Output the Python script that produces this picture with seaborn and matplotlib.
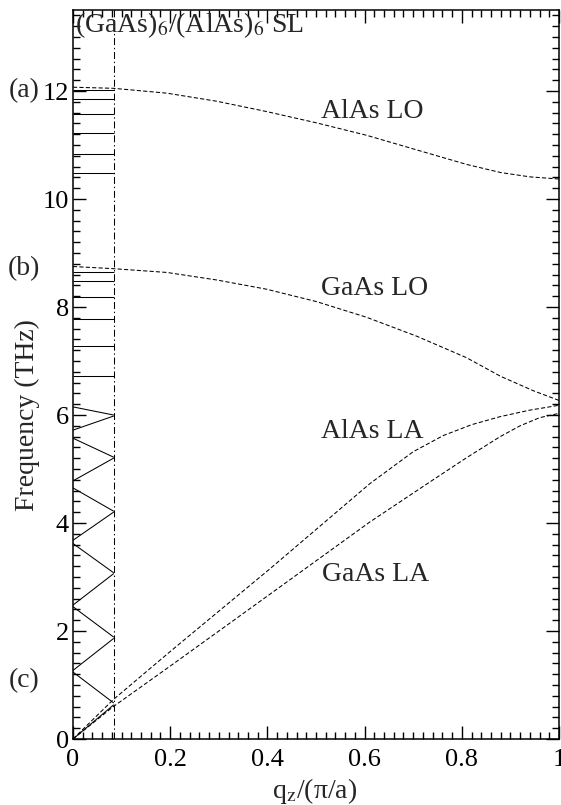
import numpy as np
import pandas as pd
import matplotlib
matplotlib.use("Agg")
import matplotlib.pyplot as plt
from matplotlib.ticker import MultipleLocator, FixedLocator
import seaborn as sns

# ---------------- data ----------------
qb = 1.0 / 12.0  # superlattice zone boundary in units of pi/a

q_alas_lo = [0.0, 0.083, 0.193, 0.296, 0.398, 0.501, 0.604, 0.707, 0.810, 0.880, 0.940, 1.0]
f_alas_lo = [12.07, 12.05, 11.96, 11.81, 11.62, 11.41, 11.18, 10.91, 10.64, 10.49, 10.41, 10.37]

q_gaas_lo = [0.0, 0.083, 0.193, 0.296, 0.398, 0.501, 0.604, 0.707, 0.810, 0.879, 0.947, 1.0]
f_gaas_lo = [8.75, 8.71, 8.64, 8.50, 8.33, 8.10, 7.81, 7.46, 7.06, 6.72, 6.45, 6.27]

q_alas_la = [0.0, 0.083, 0.200, 0.405, 0.611, 0.700, 0.762, 0.820, 0.879, 0.940, 1.0]
f_alas_la = [0.0, 0.73, 1.62, 3.15, 4.73, 5.32, 5.62, 5.82, 5.97, 6.09, 6.18]

q_gaas_la = [0.0, 0.083, 0.200, 0.405, 0.611, 0.741, 0.810, 0.879, 0.920, 0.960, 1.0]
f_gaas_la = [0.0, 0.60, 1.35, 2.68, 4.02, 4.80, 5.21, 5.60, 5.80, 5.95, 6.03]

# folded acoustic branches of the SL: (f at q=0, f at q=qb)
fold_f_center   = [0.00, 1.24, 1.27, 2.45, 2.48, 3.62, 3.68, 4.65, 4.78, 5.57, 5.72, 6.15]
fold_f_boundary = [0.63, 0.67, 1.86, 1.89, 3.06, 3.08, 4.20, 4.22, 5.20, 5.22, 5.98, 6.00]

# confined optical modes of the SL (flat)
opt_freqs = [12.02, 11.85, 11.57, 11.22, 10.83, 10.49,
             8.65, 8.49, 8.18, 7.77, 7.28, 6.72]

curve_labels = ["AlAs LO", "GaAs LO", "AlAs LA", "GaAs LA"]
label_q = [0.615, 0.62, 0.616, 0.623]
label_f = [11.62, 8.35, 5.70, 3.04]

panel_labels = ["(a)", "(b)", "(c)"]
panel_f = [12.0, 8.72, 1.09]

x_ticks = [0, 0.2, 0.4, 0.6, 0.8, 1.0]
x_ticklabels = ["0", "0.2", "0.4", "0.6", "0.8", "1"]
y_ticks = [0, 2, 4, 6, 8, 10, 12]

# ---------------- style ----------------
sns.set_style("ticks")
plt.rcParams["font.family"] = ["Liberation Serif", "DejaVu Serif"]
plt.rcParams["mathtext.fontset"] = "stix"
plt.rcParams["lines.scale_dashes"] = False

fig = plt.figure(figsize=(5.61, 8.05), dpi=100)
ax = fig.add_axes([73 / 561, (805 - 739) / 805, (559 - 73) / 561, (739 - 10) / 805])

dash = (0, (3.0, 1.6))
lw = 0.75

bulk = pd.DataFrame({
    "q": q_alas_lo + q_gaas_lo + q_alas_la + q_gaas_la,
    "f": f_alas_lo + f_gaas_lo + f_alas_la + f_gaas_la,
    "branch": (["AlAs LO"] * len(q_alas_lo) + ["GaAs LO"] * len(q_gaas_lo)
               + ["AlAs LA"] * len(q_alas_la) + ["GaAs LA"] * len(q_gaas_la)),
})
for name, sub in bulk.groupby("branch"):
    sns.lineplot(data=sub, x="q", y="f", ax=ax, color="k", lw=lw,
                 linestyle=dash, sort=False, estimator=None)

# folded acoustic branches (solid)
for fc, fbd in zip(fold_f_center, fold_f_boundary):
    sns.lineplot(x=[0.0, qb], y=[fc, fbd], ax=ax, color="k", lw=lw,
                 sort=False, estimator=None)

# confined optical modes
ax.hlines(opt_freqs, 0.0, qb, color="k", lw=lw)

# zone boundary
ax.axvline(qb, color="k", lw=0.75, linestyle=(0, (5, 2, 1, 2)))

ax.set_xlim(0, 1)
ax.set_ylim(0, 13.5)

ax.xaxis.set_major_locator(FixedLocator(x_ticks))
ax.set_xticklabels(x_ticklabels)
ax.xaxis.set_minor_locator(MultipleLocator(0.02))
ax.yaxis.set_major_locator(FixedLocator(y_ticks))
ax.yaxis.set_minor_locator(MultipleLocator(0.2))

ax.tick_params(which="both", direction="in", top=True, right=True,
               labelsize=19, width=1.0, colors="k")
ax.tick_params(which="major", length=9.5)
ax.tick_params(which="minor", length=5)
ax.tick_params(axis="x", pad=7)
ax.tick_params(axis="y", pad=3)
for s in ax.spines.values():
    s.set_linewidth(1.1)
    s.set_color("k")

ax.set_xlabel(r"q$_{\rm z}$/(π/a)", fontsize=20)
ax.set_ylabel("Frequency (THz)", fontsize=20)
ax.xaxis.set_label_coords(0.498, -0.051)
ax.yaxis.set_label_coords(-0.067, 0.444)

ax.text(0.004, (739 - 32) / 729, r"(GaAs)$_6$/(AlAs)$_6$ SL", transform=ax.transAxes,
        fontsize=20, ha="left", va="baseline")

for t, xq, yf in zip(curve_labels, label_q, label_f):
    ax.text(xq, yf, t, fontsize=20, ha="center", va="center")

for t, yf in zip(panel_labels, panel_f):
    ax.text(-0.10, yf, t, fontsize=20, ha="center", va="center", clip_on=False)

fig.savefig("out.png", dpi=100)
